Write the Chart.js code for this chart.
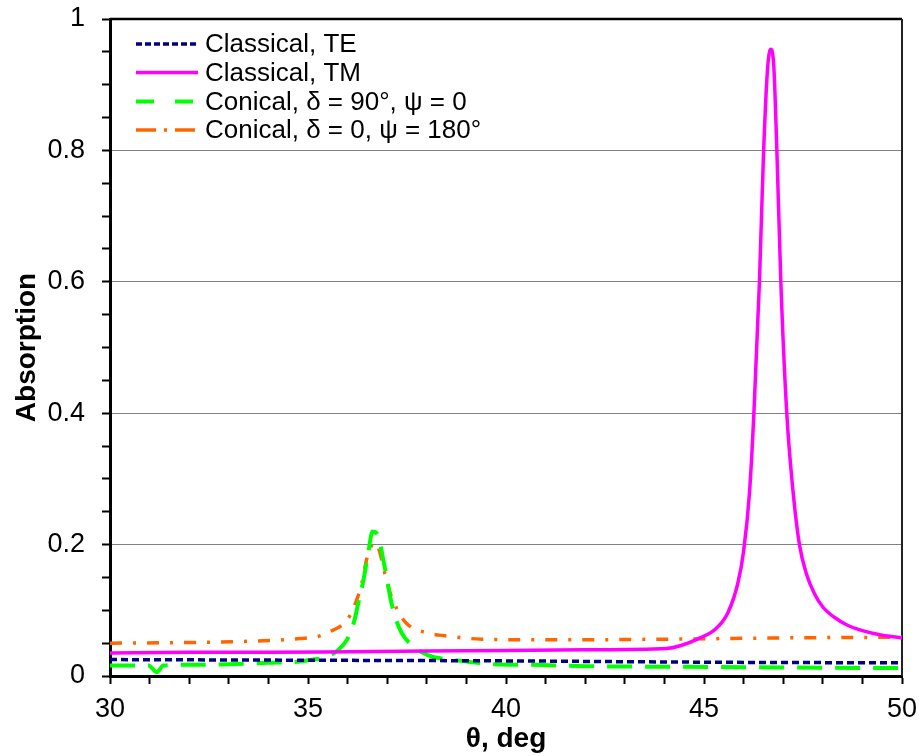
<!DOCTYPE html>
<html>
<head>
<meta charset="utf-8">
<script src="https://cdn.jsdelivr.net/npm/chart.js@4.4.0/dist/chart.umd.min.js"></script>
<style>
  html, body { margin: 0; padding: 0; background: #fff; }
  #box { width: 919px; height: 756px; }
</style>
</head>
<body>
<div id="box"><canvas id="grafico" width="919" height="756"></canvas></div>
<script>
// Classical, TE
const teTheta = [30, 35, 40, 45, 50];
const teAbs = [0.025, 0.024, 0.023, 0.021, 0.020];

// Classical, TM
const tmTheta = [30, 32, 34, 36, 38, 40, 42, 44.06, 44.4, 44.9, 45.3, 45.6, 45.85, 46.0, 46.15, 46.26,
  46.4, 46.5, 46.6, 46.68, 46.76, 46.84, 46.94, 47.09, 47.25, 47.41, 47.6, 47.8, 48.0, 48.3, 48.6, 49.0, 49.5, 50];
const tmAbs = [0.035, 0.036, 0.036, 0.037, 0.038, 0.039, 0.040, 0.042, 0.046, 0.058, 0.072, 0.096, 0.14, 0.19, 0.28, 0.40,
  0.60, 0.79, 0.92, 0.954, 0.93, 0.80, 0.60, 0.40, 0.28, 0.20, 0.153, 0.124, 0.105, 0.089, 0.078, 0.069, 0.062, 0.058];

// Conical, δ = 90°, ψ = 0
const c90Theta = [30, 30.97, 31.18, 31.35, 32, 33, 34, 34.8, 35.13, 35.47, 35.77, 35.98, 36.15, 36.27, 36.4, 36.52,
  36.63, 36.78, 36.9, 37.0, 37.09, 37.2, 37.37, 37.62, 37.91, 38.16, 38.5, 39.0, 39.7, 40.7, 42, 44.4, 47, 50];
const c90Abs = [0.016, 0.016, 0.006, 0.016, 0.017, 0.018, 0.020, 0.022, 0.025, 0.029, 0.040, 0.055, 0.080, 0.111, 0.146, 0.187,
  0.220, 0.212, 0.177, 0.146, 0.116, 0.090, 0.065, 0.047, 0.035, 0.029, 0.026, 0.022, 0.018, 0.017, 0.015, 0.014, 0.013, 0.012];

// Conical, δ = 0, ψ = 180°
const c180Theta = [30, 32, 34, 34.8, 35.3, 35.64, 35.85, 36.06, 36.23, 36.36, 36.44, 36.52, 36.7, 36.82, 36.94, 37.05,
  37.26, 37.49, 37.98, 38.5, 39.4, 41.3, 44, 47, 50];
const c180Abs = [0.050, 0.051, 0.054, 0.057, 0.061, 0.070, 0.077, 0.092, 0.116, 0.141, 0.166, 0.187, 0.203, 0.187, 0.156, 0.131,
  0.100, 0.080, 0.066, 0.061, 0.056, 0.055, 0.056, 0.058, 0.059];

const FONTE = '"Liberation Sans", Arial, sans-serif';

function pontos(xs, ys) {
  return xs.map((x, i) => ({ x: x, y: ys[i] }));
}

function ehMultiplo(v, passo) {
  const r = v / passo;
  return Math.abs(r - Math.round(r)) < 1e-6;
}

// Moldura superior e direita da área do gráfico
const moldura = {
  id: 'moldura',
  beforeDatasetsDraw(chart) {
    const { ctx, chartArea: a } = chart;
    ctx.save();
    ctx.strokeStyle = '#000';
    ctx.lineWidth = 2.5;
    ctx.beginPath();
    ctx.moveTo(a.left, a.top);
    ctx.lineTo(a.right, a.top);
    ctx.stroke();
    ctx.strokeStyle = '#222';
    ctx.lineWidth = 2;
    ctx.beginPath();
    ctx.moveTo(a.right, a.top);
    ctx.lineTo(a.right, a.bottom);
    ctx.stroke();
    ctx.restore();
  }
};

// Legenda dentro do gráfico, canto superior esquerdo
const legenda = {
  id: 'legenda',
  afterDraw(chart) {
    const ctx = chart.ctx;
    const linhas = [44, 72.5, 101.5, 130];
    ctx.save();
    chart.data.datasets.forEach((ds, i) => {
      const y = linhas[i];
      ctx.strokeStyle = ds.borderColor;
      ctx.lineWidth = ds.borderWidth;
      ctx.setLineDash(ds.legendDash || ds.borderDash || []);
      ctx.beginPath();
      ctx.moveTo(136, y);
      ctx.lineTo(198, y);
      ctx.stroke();
      ctx.setLineDash([]);
      ctx.fillStyle = '#000';
      ctx.font = '26px ' + FONTE;
      ctx.textBaseline = 'middle';
      ctx.textAlign = 'left';
      ctx.fillText(ds.label, 205, y + 1);
    });
    ctx.restore();
  }
};

const ctx = document.getElementById('grafico').getContext('2d');

new Chart(ctx, {
  type: 'scatter',
  data: {
    datasets: [
      {
        label: 'Classical, TE',
        data: pontos(teTheta, teAbs),
        borderColor: '#000080',
        borderWidth: 3.5,
        borderDash: [7, 4],
        legendDash: [6, 3]
      },
      {
        label: 'Classical, TM',
        data: pontos(tmTheta, tmAbs),
        borderColor: '#FF00FF',
        borderWidth: 3.5
      },
      {
        label: 'Conical, δ = 90°, ψ = 0',
        data: pontos(c90Theta, c90Abs),
        borderColor: '#00FF00',
        borderWidth: 4,
        borderDash: [25, 13],
        legendDash: [18, 21]
      },
      {
        label: 'Conical, δ = 0, ψ = 180°',
        data: pontos(c180Theta, c180Abs),
        borderColor: '#FF6600',
        borderWidth: 3.5,
        borderDash: [12, 11, 3, 11],
        legendDash: [20, 8, 3, 8]
      }
    ].map(ds => Object.assign(ds, {
      showLine: true,
      pointRadius: 0,
      pointHoverRadius: 0,
      fill: false,
      cubicInterpolationMode: 'monotone'
    }))
  },
  options: {
    responsive: false,
    animation: false,
    layout: { padding: { left: 0, top: 19, right: 17, bottom: 0 } },
    plugins: {
      legend: { display: false },
      tooltip: { enabled: false }
    },
    scales: {
      x: {
        type: 'linear',
        min: 30,
        max: 50,
        afterFit: (s) => {
          s.height = 80;
          s.paddingLeft = 0;
          s.paddingRight = 0;
        },
        border: { color: '#000', width: 3 },
        grid: {
          drawOnChartArea: false,
          drawTicks: true,
          tickLength: 8,
          tickColor: '#000',
          tickWidth: 2
        },
        ticks: {
          stepSize: 1,
          autoSkip: false,
          maxRotation: 0,
          padding: 9,
          color: '#000',
          font: { family: FONTE, size: 27 },
          callback: (v) => ehMultiplo(v, 5) ? String(v) : ''
        },
        title: {
          display: true,
          text: 'θ, deg',
          color: '#000',
          padding: { top: 0, bottom: 0 },
          font: { family: FONTE, size: 28, weight: 'bold' }
        }
      },
      y: {
        type: 'linear',
        min: 0,
        max: 1,
        afterFit: (s) => {
          s.width = 110;
          s.paddingTop = 0;
          s.paddingBottom = 0;
        },
        border: { color: '#000', width: 3 },
        grid: {
          drawTicks: true,
          tickLength: 8,
          tickColor: '#000',
          tickWidth: 2,
          lineWidth: 1,
          color: (c) => {
            const v = c.tick ? c.tick.value : 0;
            return (ehMultiplo(v, 0.2) && v > 0.01 && v < 0.99) ? '#808080' : 'rgba(0,0,0,0)';
          }
        },
        ticks: {
          stepSize: 0.05,
          autoSkip: false,
          padding: 17,
          color: '#000',
          font: { family: FONTE, size: 27 },
          callback: (v) => ehMultiplo(v, 0.2) ? String(Math.round(v * 10) / 10) : ''
        },
        title: {
          display: true,
          text: 'Absorption',
          color: '#000',
          padding: { top: 10, bottom: 0 },
          font: { family: FONTE, size: 28, weight: 'bold' }
        }
      }
    }
  },
  plugins: [moldura, legenda]
});
</script>
</body>
</html>
